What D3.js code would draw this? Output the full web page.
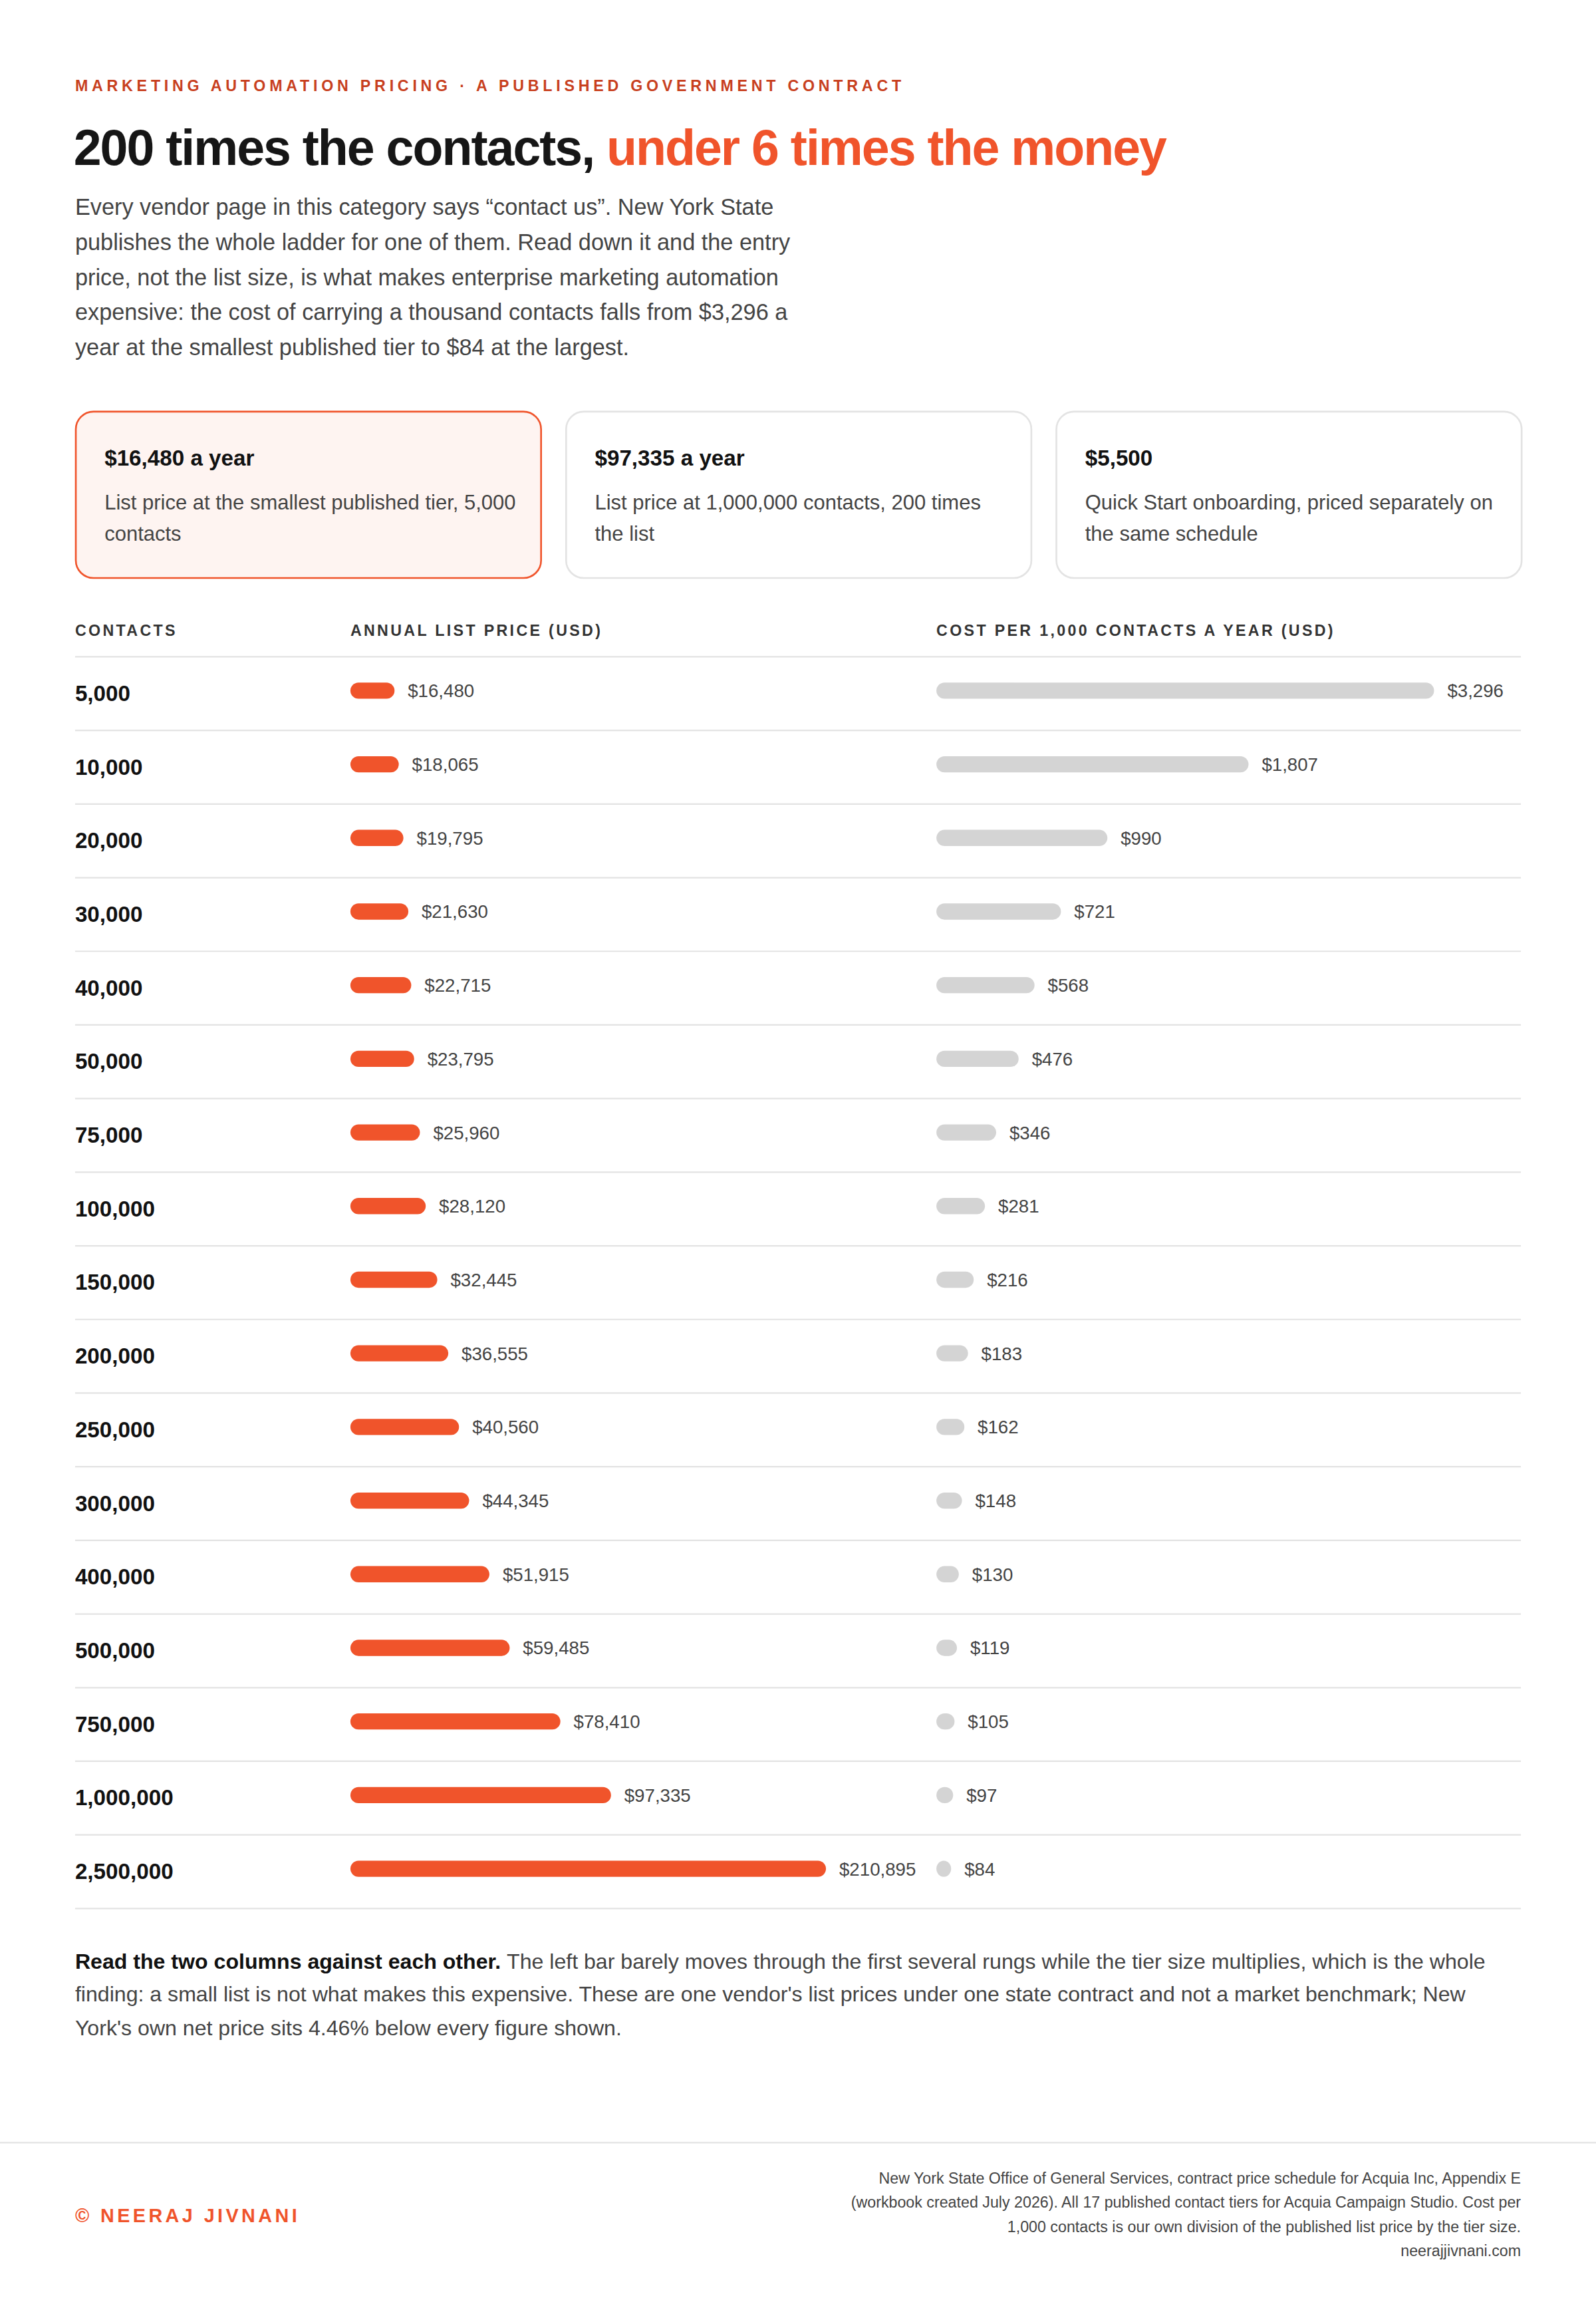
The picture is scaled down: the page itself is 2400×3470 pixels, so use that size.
<!DOCTYPE html>
<html><head><meta charset="utf-8">
<script src="https://cdn.jsdelivr.net/npm/d3@7"></script>
<style>html,body{margin:0;padding:0;background:#fff}svg{display:block}text{font-family:"Liberation Sans",Arial,Helvetica,sans-serif}</style>
</head><body>
<script>
const contacts = ["5,000","10,000","20,000","30,000","40,000","50,000","75,000","100,000","150,000","200,000","250,000","300,000","400,000","500,000","750,000","1,000,000","2,500,000"];
const annualPrice = [16480,18065,19795,21630,22715,23795,25960,28120,32445,36555,40560,44345,51915,59485,78410,97335,210895];
const costPer1000 = [3296,1807,990,721,568,476,346,281,216,183,162,148,130,119,105,97,84];
const cards = [
  {title:"$16,480 a year", lines:["List price at the smallest published tier, 5,000","contacts"], hi:true},
  {title:"$97,335 a year", lines:["List price at 1,000,000 contacts, 200 times","the list"], hi:false},
  {title:"$5,500", lines:["Quick Start onboarding, priced separately on","the same schedule"], hi:false}
];
const intro = ["Every vendor page in this category says \u201ccontact us\u201d. New York State","publishes the whole ladder for one of them. Read down it and the entry","price, not the list size, is what makes enterprise marketing automation","expensive: the cost of carrying a thousand contacts falls from $3,296 a","year at the smallest published tier to $84 at the largest."];
const source = ["New York State Office of General Services, contract price schedule for Acquia Inc, Appendix E","(workbook created July 2026). All 17 published contact tiers for Acquia Campaign Studio. Cost per","1,000 contacts is our own division of the published list price by the tier size.","neerajjivnani.com"];

const W=1084, H=1084*3470/2400, OR="#f0542b", DK="#c8401e";
const svg=d3.select("body").append("svg").attr("width",2400).attr("height",3470).attr("viewBox",`0 0 ${W} ${H}`);
svg.append("rect").attr("width",W).attr("height",H).attr("fill","#fff");

svg.append("text").attr("x",51).attr("y",62).attr("font-size",10.5).attr("font-weight",700).attr("letter-spacing",2.6).attr("fill",DK)
  .text("MARKETING AUTOMATION PRICING \u00b7 A PUBLISHED GOVERNMENT CONTRACT");
const t=svg.append("text").attr("x",50).attr("y",112).attr("font-size",34).attr("font-weight",700).attr("letter-spacing",-0.9).attr("fill","#161616");
t.append("tspan").text("200 times the contacts, ");
t.append("tspan").attr("fill",OR).text("under 6 times the money");
svg.append("g").selectAll("text").data(intro).join("text").attr("x",51).attr("y",(d,i)=>146+i*23.8).attr("font-size",15.5).attr("fill","#444").text(d=>d);

// cards
const cg=svg.append("g").selectAll("g").data(cards).join("g").attr("transform",(d,i)=>`translate(${51+i*333},279)`);
cg.append("rect").attr("x",0.5).attr("y",0.5).attr("width",316).attr("height",113).attr("rx",12)
  .attr("fill",d=>d.hi?"#fef4f1":"#fff").attr("stroke",d=>d.hi?OR:"#e3e3e3").attr("stroke-width",1.2);
cg.append("text").attr("x",20).attr("y",37).attr("font-size",15).attr("font-weight",700).attr("fill","#111").text(d=>d.title);
cg.each(function(d){d3.select(this).selectAll("text.l").data(d.lines).join("text").attr("class","l").attr("x",20).attr("y",(l,i)=>67+i*21).attr("font-size",14).attr("fill","#444").text(l=>l);});

// headers
[["CONTACTS",51],["ANNUAL LIST PRICE (USD)",238],["COST PER 1,000 CONTACTS A YEAR (USD)",636]].forEach(([s,x])=>
  svg.append("text").attr("x",x).attr("y",432).attr("font-size",10.5).attr("font-weight",700).attr("letter-spacing",1.5).attr("fill","#333").text(s));

const y=d3.scaleBand().domain(contacts).range([446,446+50*contacts.length]);
const xP=d3.scaleLinear().domain([0,97335]).range([0,177]);
const xC=d3.scaleLinear().domain([0,1807]).range([0,212]);
const capP=323, capC=338, minW=10, bh=11;
const fmt=d3.format("$,");
svg.append("line").attr("x1",51).attr("x2",1033).attr("y1",446).attr("y2",446).attr("stroke","#e3e3e3");
const rows=svg.append("g").selectAll("g").data(contacts).join("g").attr("transform",d=>`translate(0,${y(d)})`);
rows.append("line").attr("x1",51).attr("x2",1033).attr("y1",50).attr("y2",50).attr("stroke","#e3e3e3");
rows.append("text").attr("x",51).attr("y",30).attr("font-size",15).attr("font-weight",700).attr("fill","#111").text(d=>d);
const pw=(i)=>Math.max(minW,Math.min(capP,xP(annualPrice[i])));
const cw=(i)=>Math.max(minW,Math.min(capC,xC(costPer1000[i])));
rows.append("rect").attr("x",238).attr("y",23-bh/2).attr("height",bh).attr("rx",bh/2).attr("width",(d,i)=>pw(i)).attr("fill",OR);
rows.append("text").attr("x",(d,i)=>238+pw(i)+9).attr("y",27.5).attr("font-size",12.5).attr("fill","#444").text((d,i)=>fmt(annualPrice[i]));
rows.append("rect").attr("x",636).attr("y",23-bh/2).attr("height",bh).attr("rx",bh/2).attr("width",(d,i)=>cw(i)).attr("fill","#d4d4d4");
rows.append("text").attr("x",(d,i)=>636+cw(i)+9).attr("y",27.5).attr("font-size",12.5).attr("fill","#444").text((d,i)=>fmt(costPer1000[i]));

// note
const note=["The left bar barely moves through the first several rungs while the tier size multiplies, which is the whole","finding: a small list is not what makes this expensive. These are one vendor's list prices under one state contract and not a market benchmark; New","York's own net price sits 4.46% below every figure shown."];
const n0=svg.append("text").attr("x",51).attr("y",1337).attr("font-size",14.5).attr("fill","#444");
n0.append("tspan").attr("font-weight",700).attr("fill","#111").text("Read the two columns against each other. ");
n0.append("tspan").text(note[0]);
svg.append("text").attr("x",51).attr("y",1359).attr("font-size",14.5).attr("fill","#444").text(note[1]);
svg.append("text").attr("x",51).attr("y",1382).attr("font-size",14.5).attr("fill","#444").text(note[2]);

svg.append("line").attr("x1",0).attr("x2",W).attr("y1",1455).attr("y2",1455).attr("stroke","#e3e3e3");
svg.append("text").attr("x",51).attr("y",1509).attr("font-size",13).attr("font-weight",700).attr("letter-spacing",2).attr("fill",OR).text("\u00a9 NEERAJ JIVNANI");
svg.append("g").selectAll("text").data(source).join("text").attr("x",1033).attr("y",(d,i)=>1483+i*16.3).attr("text-anchor","end").attr("font-size",10.5).attr("fill","#444").text(d=>d);
</script>
</body></html>
